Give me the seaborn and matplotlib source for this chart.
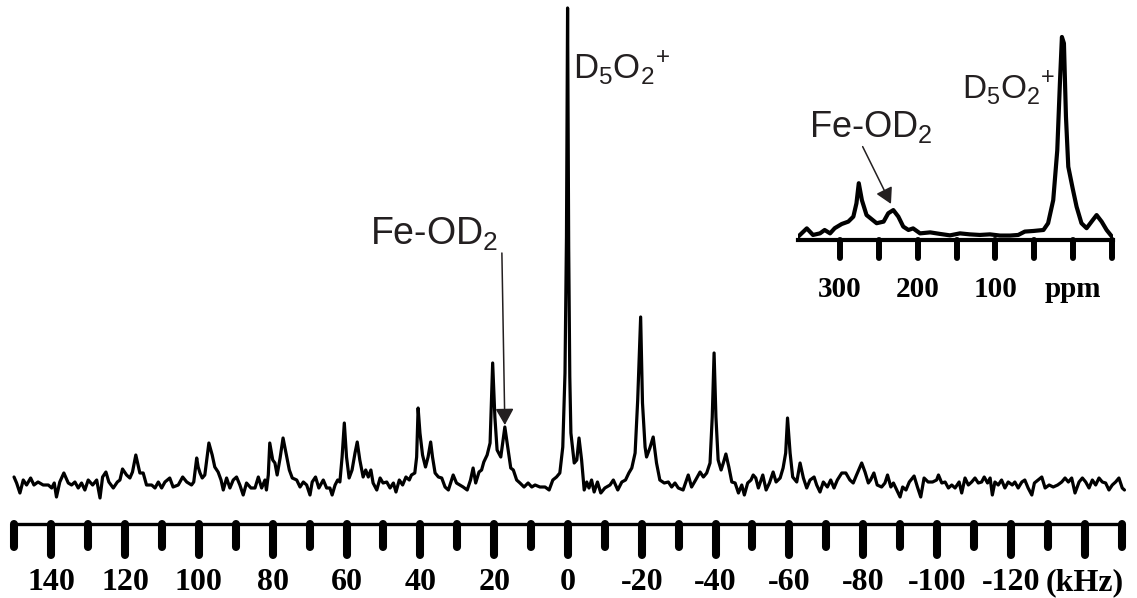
import matplotlib
matplotlib.use("Agg")
import matplotlib.pyplot as plt
import pandas as pd
import seaborn as sns
from matplotlib.markers import MarkerStyle, TICKDOWN
from matplotlib.ticker import FixedLocator, FixedFormatter

sns.set_theme(style="white")
plt.rcParams["font.family"] = ["Liberation Sans", "DejaVu Sans"]
plt.rcParams["mathtext.fontset"] = "custom"
plt.rcParams["mathtext.rm"] = "Liberation Sans"

# ---------------- main 2H MAS spectrum (kHz, intensity a.u.) ----------------
main_khz = [
    150.1, 149.4, 148.5, 147.6, 146.7, 145.6, 144.7, 143.6, 142.2, 140.8,
    139.9, 139.2, 138.6, 137.7, 136.6, 135.4, 134.5, 133.6, 132.7, 131.8,
    130.9, 130.0, 128.8, 127.7, 126.8, 126.1, 125.2, 124.4, 123.2, 122.1,
    121.4, 120.7, 119.6, 118.7, 118.0, 117.1, 116.0, 115.1, 114.2, 112.8,
    111.9, 111.0, 110.1, 109.2, 107.9, 107.0, 105.6, 104.4, 103.3, 102.0, 101.4,
    100.6, 100.2, 99.7, 99.1, 98.4, 97.3, 96.4, 95.7, 94.8, 94.0,
    93.4, 92.5, 91.6, 90.7, 89.8, 88.9, 88.0, 87.1, 85.9, 84.8,
    83.9, 83.0, 82.1, 81.7, 81.2, 80.8, 80.0, 79.4, 78.8, 78.0,
    77.2, 76.2, 75.5, 74.7, 73.5, 72.6, 71.7, 70.8, 69.9, 69.3,
    68.4, 67.5, 66.3, 65.4, 64.5, 63.9, 63.1, 62.4, 61.8, 61.2,
    60.6, 60.0, 59.3, 58.5, 57.7, 57.1, 56.4, 55.5, 54.8, 54.1,
    53.4, 52.8, 51.8, 50.9, 50.1,
    49.1, 48.2, 47.3, 46.6, 45.7, 44.8, 43.9, 43.0, 42.4, 41.5,
    41.0, 40.6, 40.1, 39.4, 38.6, 37.9, 37.2, 36.7, 36.0, 35.1,
    34.2, 33.3, 32.4, 31.8, 31.1, 30.2, 29.3, 28.4, 27.3, 26.4,
    25.7, 25.0, 24.1, 23.4, 22.8, 21.9, 21.1, 20.4, 19.8, 19.2,
    18.2, 17.1, 16.2, 15.5, 14.8, 13.9, 13.0, 11.9, 10.8, 9.8,
    8.9, 7.6, 6.2, 5.1, 4.1, 3.1, 2.2, 1.4, 0.8, 0.4,
    0.1, -0.2, -0.5, -0.8,
    -1.7, -2.4, -3.0, -3.7, -4.4, -5.1, -5.7, -6.4, -7.1, -8.0,
    -8.9, -10.0, -11.4, -12.3, -13.5, -14.6, -15.6, -16.5, -17.3, -18.2,
    -18.9, -19.7, -20.2, -20.9, -21.3, -22.2, -23.1, -24.0, -24.9, -26.1,
    -27.2, -28.1, -29.0, -29.9, -31.2, -32.6, -33.5, -34.6, -35.8, -36.7,
    -37.6, -38.5, -39.1, -39.6, -40.1, -40.7, -41.5, -42.1, -42.8, -43.6,
    -44.4, -45.3, -46.2, -47.1, -47.8, -48.7, -49.6, -50.2,
    -50.9, -51.6, -52.8, -53.7, -54.6, -55.6, -56.4, -57.5, -58.3, -59.0,
    -59.5, -60.2, -60.9, -62.0, -62.9, -63.8, -64.7, -65.6, -66.7, -67.4,
    -68.3, -69.2, -70.3, -71.2, -72.1, -73.0, -74.2, -75.3, -76.4, -77.3,
    -78.2, -79.6, -80.5, -81.4, -82.0, -82.9, -83.8, -85.0, -85.9, -86.6,
    -87.5, -88.2, -89.1, -90.0, -90.7, -91.6, -92.5, -93.8, -94.7, -95.6,
    -96.5, -97.6, -98.8, -99.9,
    -100.4, -101.3, -102.2, -103.1, -104.0, -104.9, -106.0, -106.7, -107.6, -108.5,
    -109.4, -110.3, -111.2, -112.1, -112.8, -113.7, -114.4, -115.0, -115.7, -116.6,
    -117.5, -118.4, -119.3, -120.4, -121.1, -122.0, -123.0, -123.8, -124.7, -125.7,
    -126.4, -127.4, -128.4, -129.3, -130.4, -131.5, -132.7, -133.8, -134.7, -135.6,
    -136.5, -137.4, -138.5, -139.4, -140.3, -141.2, -142.1, -143.0, -143.9, -144.8,
    -145.7, -146.6, -147.5, -148.4, -149.3, -150.2, -150.8,
]
main_intensity = [
    10, 4, -6, 7, 2, 9, 2, 5, 2, 2,
    -1, 4, -10, 5, 14, 4, 2, 5, -1, 4,
    -3, 7, 2, 7, -11, 10, 15, 5, -1, 5,
    7, 18, 12, 9, 15, 32, 14, 14, 2, 2,
    -1, 5, -1, 5, 9, 0, 2, 10, 5, 2, 5,
    29, 20, 14, 9, 12, 44, 32, 20, 15, 7,
    -3, 9, -1, 7, 10, 2, -8, 4, -1, -1,
    10, -1, 7, -3, 12, 44, 27, 24, 12, 29,
    49, 30, 17, 9, 7, 0, 5, 2, -8, 5,
    10, -1, 7, -1, -1, -8, 2, 7, 5, 30,
    64, 30, 9, 17, 34, 45, 27, 10, 17, 10,
    17, 4, -3, 9, 4,
    5, -1, 4, -5, 7, 2, 10, 7, 12, 14,
    30, 79, 54, 32, 20, 30, 45, 30, 14, 10,
    9, 0, -3, 4, 12, 4, 2, 0, -3, 7,
    19, 4, 15, 17, 25, 32, 44, 124, 70, 37,
    30, 60, 37, 19, 17, 7, 4, 0, 4, 0,
    2, 0, 0, -3, 7, 10, 14, 40, 114, 250,
    479, 240, 110, 54,
    24, 27, 49, 27, -3, 5, -1, 7, -5, 5,
    -6, -1, 2, 7, -3, 5, 7, 14, 19, 34,
    87, 170, 84, 40, 30, 39, 50, 24, 7, 4,
    5, 0, 4, -1, -3, 12, 0, 7, 15, 10,
    14, 24, 70, 134, 70, 27, 17, 24, 33, 20,
    5, 4, -6, 2, -8, 4, 7, 12,
    9, -1, 12, -3, 4, 15, 5, 9, 19, 34,
    69, 34, 10, 5, 24, 9, -1, 7, 10, 2,
    -5, 5, 0, 7, -1, 7, 14, 14, 7, 4,
    12, 24, 15, 4, 7, 14, 2, 0, 4, 12,
    0, 4, -3, -10, 0, -3, 5, 11, 0, -10,
    9, 5, 5, 7,
    12, 4, 5, -1, 2, -1, 5, -6, 9, 2,
    5, 9, 4, 5, 10, 4, 9, -8, 5, 2,
    7, -1, 5, 2, 5, -1, 5, 7, -1, -8,
    4, 7, 10, -1, 2, 0, 2, 5, 9, 5,
    9, -6, 5, 9, 5, -1, 7, 2, 9, 5,
    4, -3, 2, 5, 9, -1, -3,
]
assert len(main_khz) == len(main_intensity)

major_ticks_khz = [140, 120, 100, 80, 60, 40, 20, 0, -20, -40, -60, -80, -100, -120, -140]
major_labels = ["140", "120", "100", "80", "60", "40", "20", "0",
                "-20", "-40", "-60", "-80", "-100", "-120", "(kHz)"]
minor_ticks_khz = [150, 130, 110, 90, 70, 50, 30, 10, -10, -30, -50, -70, -90,
                   -110, -130, -150]

# ---------------- inset spectrum (ppm, intensity a.u.) ----------------
inset_ppm = [
    354, 343, 335, 326, 320, 313, 307, 298, 289.5, 283,
    279, 276, 272, 266, 253, 244, 238, 231.5, 225, 218.7,
    212, 206, 197, 184, 171, 158.5, 145.6, 133, 120, 107,
    94, 81, 70.5, 62, 51, 38, 32, 25.4, 20.2, 16.8,
    14.2, 11.6, 9, 6, 0.4, -4.7, -11, -17.6, -24, -30.5,
    -37, -43.4, -51,
]
inset_intensity = [
    -1.3, 2.8, -0.5, 0.3, 2, 0.3, 2.9, 5, 6.2, 8.7,
    15.4, 25.5, 17, 9.5, 5.4, 6.2, 10.4, 12, 8.7, 3.7,
    2, 2.8, 0.3, 0.8, 0, -0.7, 0.3, -0.2, -0.5, -0.2,
    -0.8, -0.8, -0.5, 1.2, 1.5, 2, 5.4, 17, 42, 75.7,
    99, 95.8, 59, 33.8, 23, 13.7, 5.4, 2.9, 6.2, 9.5,
    6.2, 2, -1.7,
]
assert len(inset_ppm) == len(inset_intensity)
inset_ticks_ppm = [300, 250, 200, 150, 100, 50, 0, -50]
inset_labels = ["300", "", "200", "", "100", "", "ppm", ""]

TXT = "#231f20"
fe_label = "Fe-OD$_{\\mathregular{2}}$"
d5o2_label = "D$_{\\mathregular{5}}$O$_{\\mathregular{2}}$$^{\\mathregular{+}}$"

fig = plt.figure(figsize=(11.37, 5.98), dpi=100)

# main axes
ax = fig.add_axes([0, 0, 1, 1])
ax.patch.set_alpha(0)
df_main = pd.DataFrame({"khz": main_khz, "intensity": main_intensity})
sns.lineplot(data=df_main, x="khz", y="intensity", ax=ax, color="black",
             linewidth=2.3, sort=False, estimator=None, legend=False)
ax.set_xlim(153.9, -154.2)
ax.set_ylim(-111, 487)
for s in ["top", "left", "right"]:
    ax.spines[s].set_visible(False)
ax.spines["bottom"].set_position(("data", -37))
ax.spines["bottom"].set_bounds(150, -150)
ax.spines["bottom"].set_linewidth(2.4)
ax.spines["bottom"].set_color("black")
ax.set_yticks([])
ax.set_xlabel("")
ax.set_ylabel("")
ax.xaxis.set_major_locator(FixedLocator(major_ticks_khz))
ax.xaxis.set_major_formatter(FixedFormatter(major_labels))
ax.xaxis.set_minor_locator(FixedLocator(minor_ticks_khz))
ax.tick_params(axis="x", which="major", bottom=True, direction="out", length=22,
               width=5.8, color="black", pad=10, labelsize=23, labelcolor="black")
ax.tick_params(axis="x", which="minor", bottom=True, direction="out", length=16.5,
               width=5.8, color="black")

ax.annotate("", xy=(17.1, 62), xytext=(17.9, 234),
            arrowprops=dict(arrowstyle="-|>,head_length=0.5,head_width=0.28",
                            color=TXT, lw=1.1, shrinkA=0, shrinkB=0,
                            mutation_scale=20))
ax.text(53.7, 242, fe_label, fontsize=27, ha="left", va="baseline", color=TXT)
ax.text(-1.4, 409, d5o2_label, fontsize=25, ha="left", va="baseline", color=TXT)

# inset axes
axi = fig.add_axes([0.7018, 0.4983, 0.277, 0.4515])
axi.patch.set_alpha(0)
df_in = pd.DataFrame({"ppm": inset_ppm, "intensity": inset_intensity})
sns.lineplot(data=df_in, x="ppm", y="intensity", ax=axi, color="black",
             linewidth=3.0, sort=False, estimator=None, legend=False)
axi.set_xlim(354.4, -51.5)
axi.set_ylim(-33.2, 102.5)
for s in ["top", "left", "right"]:
    axi.spines[s].set_visible(False)
axi.spines["bottom"].set_position(("data", -3.0))
axi.spines["bottom"].set_linewidth(3.0)
axi.spines["bottom"].set_color("black")
axi.set_yticks([])
axi.set_xlabel("")
axi.set_ylabel("")
axi.xaxis.set_major_locator(FixedLocator(inset_ticks_ppm))
axi.xaxis.set_major_formatter(FixedFormatter(inset_labels))
axi.tick_params(axis="x", which="major", bottom=True, direction="out", length=13,
                width=4.3, color="black", pad=13, labelsize=21, labelcolor="black")
axi.annotate("", xy=(234.5, 15.1), xytext=(271, 43.9),
             arrowprops=dict(arrowstyle="-|>,head_length=0.5,head_width=0.28",
                             color=TXT, lw=1.1, shrinkA=0, shrinkB=0,
                             mutation_scale=19))
axi.text(340, 48.7, fe_label, fontsize=26, ha="left", va="baseline", color=TXT)
axi.text(143, 67.8, d5o2_label, fontsize=24, ha="left", va="baseline", color=TXT)

fig.canvas.draw()
for a in (ax, axi):
    ticks = a.xaxis.get_major_ticks() + a.xaxis.get_minor_ticks()
    for t in ticks:
        t.tick1line.set_marker(MarkerStyle(TICKDOWN, capstyle="round"))
    for lab in a.get_xticklabels():
        lab.set_fontfamily(["Liberation Serif", "DejaVu Serif"])
        lab.set_fontweight("bold")

fig.savefig("out.png", dpi=100)
